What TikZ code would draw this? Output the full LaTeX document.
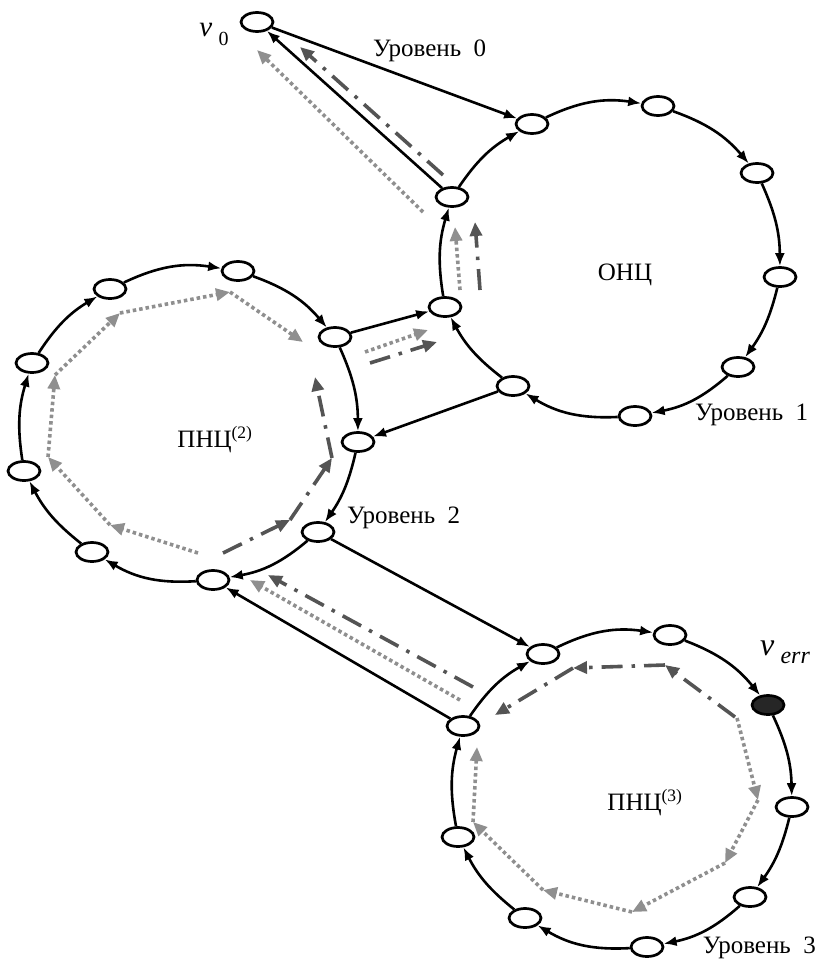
\documentclass[tikz,border=0pt]{standalone}
\usepackage{fontspec}
\setmainfont{Liberation Serif}
\usetikzlibrary{arrows.meta}
\usetikzlibrary{shapes.geometric}

\definecolor{lightpath}{gray}{0.56}
\definecolor{darkpath}{gray}{0.33}

\begin{document}
\begin{tikzpicture}[x=1pt,y=-1pt,font=\fontsize{25}{30}\selectfont]
  \tikzset{vertex/.style={ellipse, draw, fill=white, line width=2.7pt,
      minimum width=32pt, minimum height=19pt, inner sep=0pt}}
  \tikzset{errvertex/.style={vertex, fill=black!85}}
  \tikzset{link/.style={-{Latex[length=13pt,width=10pt]}, line width=2.6pt}}
  \tikzset{dotpath/.style={-{Triangle[length=14pt,width=12pt]}, lightpath,
      line width=3.6pt, dash pattern=on 3.5pt off 3pt}}
  \tikzset{dashpath/.style={-{Triangle[length=14pt,width=12pt]}, darkpath,
      line width=3.6pt, dash pattern=on 21pt off 9pt on 3.5pt off 9pt}}
  \tikzset{level/.style={inner sep=0pt}}
  \useasboundingbox (0,0) rectangle (819,961);

  % start vertex
  \node[vertex] (v0) at (257,22) {};

  % level 1 cycle
  \node[vertex] (a1) at (532,124) {};
  \node[vertex] (a2) at (658,106) {};
  \node[vertex] (a3) at (757,173) {};
  \node[vertex] (a4) at (780,277) {};
  \node[vertex] (a5) at (738,367) {};
  \node[vertex] (a6) at (635,416) {};
  \node[vertex] (a7) at (513,386) {};
  \node[vertex] (a8) at (445,307) {};
  \node[vertex] (a9) at (452,197) {};

  % level 2 cycle
  \node[vertex] (b1) at (110,289) {};
  \node[vertex] (b2) at (238,271) {};
  \node[vertex] (b3) at (335,337) {};
  \node[vertex] (b4) at (358,442) {};
  \node[vertex] (b5) at (318,532) {};
  \node[vertex] (b6) at (213,580) {};
  \node[vertex] (b7) at (92,552) {};
  \node[vertex] (b8) at (24,471) {};
  \node[vertex] (b9) at (32,363) {};

  % level 3 cycle
  \node[vertex] (c1) at (543,654) {};
  \node[vertex] (c2) at (670,635) {};
  \node[errvertex] (c3) at (768,705) {};
  \node[vertex] (c4) at (792,807) {};
  \node[vertex] (c5) at (750,897) {};
  \node[vertex] (c6) at (647,947) {};
  \node[vertex] (c7) at (525,918) {};
  \node[vertex] (c8) at (458,837) {};
  \node[vertex] (c9) at (463,726) {};

  % labels
  \node (cyc1) at (625,275) {ОНЦ};
  \node (cyc2) at (215,440) {ПНЦ\textsuperscript{(2)}};
  \node (cyc3) at (645,803) {ПНЦ\textsuperscript{(3)}};
  \node[level] (lev0) at (373,51) [anchor=west] {Уровень\ \ 0};
  \node[level] (lev1) at (695,415) [anchor=west] {Уровень\ \ 1};
  \node[level] (lev2) at (347,518) [anchor=west] {Уровень\ \ 2};
  \node[level] (lev3) at (816,948) [anchor=east] {Уровень\ \ 3};
  \node (v0name) at (214,34) {{\fontsize{29}{30}\selectfont\itshape v}\ \raisebox{-9pt}{\fontsize{20}{20}\selectfont 0}};
  \node (errname) at (785,652) {{\fontsize{32}{34}\selectfont\itshape v}\ \raisebox{-8pt}{\fontsize{24}{26}\selectfont\itshape err}};

  % cycle arcs
  \draw[link] (a1) to[bend left=17] (a2);
  \draw[link] (a2) to[bend left=15] (a3);
  \draw[link] (a3) to[bend left=12] (a4);
  \draw[link] (a4) to[bend left=11] (a5);
  \draw[link] (a5) to[bend left=15] (a6);
  \draw[link] (a6) to[bend left=17] (a7);
  \draw[link] (a7) to[bend left=12] (a8);
  \draw[link] (a8) to[bend left=13] (a9);
  \draw[link] (a9) to[bend left=13] (a1);

  \draw[link] (b1) to[bend left=17] (b2);
  \draw[link] (b2) to[bend left=15] (b3);
  \draw[link] (b3) to[bend left=12] (b4);
  \draw[link] (b4) to[bend left=11] (b5);
  \draw[link] (b5) to[bend left=15] (b6);
  \draw[link] (b6) to[bend left=17] (b7);
  \draw[link] (b7) to[bend left=12] (b8);
  \draw[link] (b8) to[bend left=13] (b9);
  \draw[link] (b9) to[bend left=13] (b1);

  \draw[link] (c1) to[bend left=17] (c2);
  \draw[link] (c2) to[bend left=15] (c3);
  \draw[link] (c3) to[bend left=12] (c4);
  \draw[link] (c4) to[bend left=11] (c5);
  \draw[link] (c5) to[bend left=15] (c6);
  \draw[link] (c6) to[bend left=17] (c7);
  \draw[link] (c7) to[bend left=12] (c8);
  \draw[link] (c8) to[bend left=13] (c9);
  \draw[link] (c9) to[bend left=13] (c1);

  % links between levels
  \draw[link] (a9) -- (v0);
  \draw[link] (v0) -- (a1);
  \draw[link] (b3) -- (a8);
  \draw[link] (a7) -- (b4);
  \draw[link] (b5) -- (c1);
  \draw[link] (c9) -- (b6);

  % dotted return path
  \coordinate (d1) at (737,718);
  \coordinate (d2) at (758,800);
  \coordinate (d3) at (725,863);
  \coordinate (d4) at (632,912);
  \coordinate (d5) at (543,890);
  \coordinate (d6) at (473,822);
  \coordinate (d7) at (477,747);
  \coordinate (d8) at (460,700);
  \coordinate (d9) at (250,580);
  \coordinate (d10) at (198,553);
  \coordinate (d11) at (110,525);
  \coordinate (d12) at (48,457);
  \coordinate (d13) at (55,375);
  \coordinate (d14) at (120,313);
  \coordinate (d15) at (230,292);
  \coordinate (d16) at (303,342);
  \coordinate (d17) at (365,352);
  \coordinate (d18) at (428,330);
  \coordinate (d19) at (460,290);
  \coordinate (d20) at (455,227);
  \coordinate (d21) at (423,212);
  \coordinate (d22) at (257,50);
  \draw[dotpath] (d1) -- (d2);
  \draw[dotpath] (d2) -- (d3);
  \draw[dotpath] (d3) -- (d4);
  \draw[dotpath] (d4) -- (d5);
  \draw[dotpath] (d5) -- (d6);
  \draw[dotpath] (d6) -- (d7);
  \draw[dotpath] (d8) -- (d9);
  \draw[dotpath] (d10) -- (d11);
  \draw[dotpath] (d11) -- (d12);
  \draw[dotpath] (d12) -- (d13);
  \draw[dotpath] (d13) -- (d14);
  \draw[dotpath] (d14) -- (d15);
  \draw[dotpath] (d15) -- (d16);
  \draw[dotpath] (d17) -- (d18);
  \draw[dotpath] (d19) -- (d20);
  \draw[dotpath] (d21) -- (d22);

  % dash-dotted return path
  \coordinate (e1) at (735,717);
  \coordinate (e2) at (665,665);
  \coordinate (e3) at (573,668);
  \coordinate (e4) at (495,715);
  \coordinate (e5) at (473,687);
  \coordinate (e6) at (268,575);
  \coordinate (e7) at (223,553);
  \coordinate (e8) at (290,520);
  \coordinate (e9) at (332,458);
  \coordinate (e10) at (315,377);
  \coordinate (e11) at (370,363);
  \coordinate (e12) at (437,342);
  \coordinate (e13) at (480,290);
  \coordinate (e14) at (475,222);
  \coordinate (e15) at (443,175);
  \coordinate (e16) at (300,47);
  \draw[dashpath] (e1) -- (e2);
  \draw[dashpath] (e2) -- (e3);
  \draw[dashpath] (e3) -- (e4);
  \draw[dashpath] (e5) -- (e6);
  \draw[dashpath] (e7) -- (e8);
  \draw[dashpath] (e8) -- (e9);
  \draw[dashpath] (e9) -- (e10);
  \draw[dashpath] (e11) -- (e12);
  \draw[dashpath] (e13) -- (e14);
  \draw[dashpath] (e15) -- (e16);
\end{tikzpicture}
\end{document}
